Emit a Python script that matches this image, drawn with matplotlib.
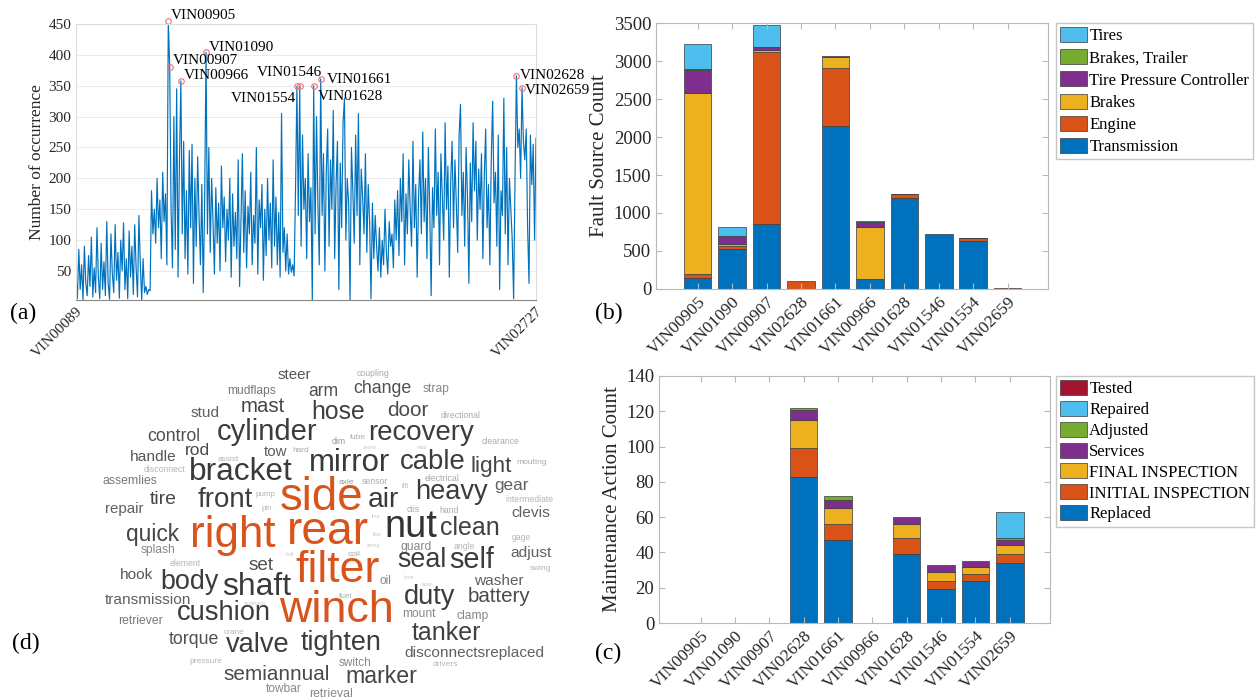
import numpy as np
import matplotlib
matplotlib.use("Agg")
import matplotlib.pyplot as plt
from matplotlib.patches import Patch

plt.rcParams['font.family'] = ['Liberation Serif', 'DejaVu Serif']

W, H = 1259, 698

# ---------------- (a) occurrences per vehicle ----------------
occurrence = [
    40, 5, 85, 20, 60, 3, 90, 30, 10, 75, 25, 105, 8, 55, 15, 120, 40, 5, 95, 20,
    65, 10, 130, 30, 4, 110, 45, 15, 125, 35, 80, 6, 100, 50, 128, 20, 70, 5, 115, 40,
    90, 12, 125, 55, 8, 140, 60, 3, 70, 15, 25, 12, 20, 18, 180, 110, 150, 95, 200, 120,
    165, 70, 210, 130, 175, 60, 455, 381, 150, 55, 300, 85, 345, 40, 230, 358, 110, 260, 70, 180,
    45, 245, 120, 255, 30, 200, 90, 235, 140, 60, 190, 15, 160, 404, 110, 250, 80, 200, 130, 45,
    185, 95, 160, 50, 220, 120, 170, 65, 150, 100, 200, 40, 175, 90, 145, 70, 230, 25, 130, 240,
    80, 180, 55, 155, 110, 210, 60, 140, 95, 250, 45, 165, 120, 190, 35, 150, 75, 200, 100, 160,
    55, 230, 90, 170, 60, 145, 40, 305, 80, 120, 50, 110, 45, 70, 48, 60, 42, 180, 349, 140,
    349, 90, 270, 150, 200, 70, 240, 130, 185, 2, 350, 110, 300, 160, 60, 361, 140, 240, 50, 210,
    280, 90, 230, 150, 310, 70, 190, 260, 20, 225, 120, 290, 330, 100, 200, 160, 2, 250, 180, 95,
    270, 140, 305, 60, 215, 170, 110, 240, 80, 190, 130, 5, 160, 70, 140, 90, 50, 120, 40, 100,
    60, 150, 80, 45, 130, 90, 110, 55, 165, 100, 180, 75, 200, 130, 240, 60, 175, 110, 230, 150,
    90, 260, 120, 190, 40, 170, 230, 110, 275, 130, 200, 70, 250, 150, 10, 185, 120, 280, 140, 210,
    60, 240, 170, 100, 290, 150, 220, 40, 195, 260, 120, 230, 160, 80, 270, 320, 140, 210, 90, 250,
    170, 30, 225, 130, 290, 180, 260, 100, 215, 150, 240, 70, 200, 280, 120, 190, 60, 230, 325, 160,
    210, 90, 270, 20, 180, 140, 330, 110, 250, 60, 200, 150, 100, 5, 200, 366, 250, 280, 200, 347,
    260, 230, 280, 120, 30, 270, 190, 255, 100, 265,
]
first_last_vin = ['VIN00089', 'VIN02727']
peak_names = ['VIN00905', 'VIN00907', 'VIN00966', 'VIN01090', 'VIN01554',
              'VIN01546', 'VIN01628', 'VIN01661', 'VIN02628', 'VIN02659']
peak_idx = [66, 67, 75, 93, 158, 160, 170, 175, 315, 319]
# label offsets in pixels and alignment
peak_off = [(3, 5, 'left'), (3, 6, 'left'), (3, 5, 'left'), (3, 5, 'left'), (-1, -12, 'right'),
            (-43, 14, 'left'), (4, -11, 'left'), (6, -1, 'left'), (3, 0, 'left'), (3, -3, 'left')]

# ---------------- (b) fault sources ----------------
vins = ['VIN00905', 'VIN01090', 'VIN00907', 'VIN02628', 'VIN01661',
        'VIN00966', 'VIN01628', 'VIN01546', 'VIN01554', 'VIN02659']
fault_names = ['Transmission', 'Engine', 'Brakes', 'Tire Pressure Controller', 'Brakes, Trailer', 'Tires']
transmission = [150, 530, 860, 0, 2150, 125, 1200, 720, 630, 3]
engine = [50, 40, 2265, 110, 755, 5, 50, 0, 40, 8]
brakes = [2380, 25, 25, 0, 150, 680, 5, 0, 5, 0]
tire_pressure = [305, 100, 35, 0, 5, 75, 0, 0, 0, 0]
brakes_trailer = [5, 5, 5, 0, 0, 0, 0, 0, 0, 0]
tires = [330, 120, 280, 0, 0, 5, 0, 0, 0, 0]

# ---------------- (c) maintenance actions ----------------
action_names = ['Replaced', 'INITIAL INSPECTION', 'FINAL INSPECTION', 'Services', 'Adjusted', 'Repaired', 'Tested']
replaced = [0, 0, 0, 83, 47, 0, 39, 19, 24, 34]
initial_insp = [0, 0, 0, 16, 9, 0, 9, 5, 4, 5]
final_insp = [0, 0, 0, 16, 9, 0, 8, 5, 4, 5]
services = [0, 0, 0, 6, 5, 0, 4, 4, 3, 3]
adjusted = [0, 0, 0, 1, 2, 0, 0, 0, 0, 1]
repaired = [0, 0, 0, 0, 0, 0, 0, 0, 0, 15]
tested = [0, 0, 0, 0, 0, 0, 0, 0, 0, 0]

# ---------------- (d) word cloud ----------------
OR = '#D9541C'
words = ['steer', 'coupling', 'mudflaps', 'arm', 'change', 'strap', 'stud', 'mast', 'hose', 'door',
         'directional', 'control', 'cylinder', 'dim', 'lube', 'recovery', 'clearance', 'handle', 'rod', 'tow',
         'hard', 'assist', 'disconnect', 'bracket', 'mirror', 'cable', 'light', 'mouting', 'assemlies', 'axle',
         'sensor', 'electrical', 'lift', 'heavy', 'gear', 'intermediate', 'tire', 'repair', 'front', 'pump',
         'pin', 'side', 'air', 'ctis', 'hand', 'clevis', 'quick', 'splash', 'right', 'rear',
         'nut', 'clean', 'gage', 'guard', 'angle', 'coil', 'element', 'set', 'filter', 'seal',
         'self', 'adjust', 'swing', 'hook', 'body', 'shaft', 'oil', 'washer', 'transmission', 'fuel',
         'duty', 'battery', 'retriever', 'cushion', 'winch', 'mount', 'clamp', 'crane', 'torque', 'valve',
         'tighten', 'tanker', 'disconnectsreplaced', 'pressure', 'switch', 'drivers', 'semiannual', 'marker', 'towbar', 'retrieval',
         'loose', 'mud', 'line', 'flap', 'string', 'bolt', 'boot', 'seat', 'sediment']
word_x = [795, 1009, 680, 874, 1034, 1179, 555, 711, 913, 1102,
          1245, 471, 722, 915, 965, 1137, 1352, 413, 535, 744,
          813, 616, 445, 652, 945, 1171, 1327, 1437, 352, 936,
          1014, 1196, 1094, 1221, 1382, 1431, 442, 336, 609, 717,
          721, 868, 1036, 1118, 1215, 1434, 412, 428, 630, 886,
          1111, 1271, 1410, 1125, 1255, 957, 501, 705, 912, 1141,
          1275, 1435, 1460, 368, 511, 694, 1043, 1349, 401, 933,
          1161, 1349, 381, 604, 910, 1133, 1278, 633, 523, 696,
          922, 1207, 1283, 556, 960, 1205, 747, 1030, 766, 895,
          1000, 1140, 1015, 1020, 1010, 785, 1105, 1155, 690]
word_y = [75, 70, 123, 125, 115, 118, 190, 170, 187, 182,
          195, 260, 245, 275, 262, 250, 275, 320, 302, 307,
          300, 328, 357, 365, 340, 337, 350, 337, 393, 397,
          395, 385, 410, 425, 407, 450, 450, 478, 450, 432,
          474, 445, 450, 477, 482, 490, 555, 600, 555, 545,
          530, 535, 562, 590, 590, 615, 640, 645, 660, 630,
          630, 610, 657, 675, 695, 710, 693, 692, 750, 738,
          740, 740, 812, 790, 780, 792, 797, 847, 868, 885,
          878, 850, 910, 935, 938, 945, 972, 980, 1017, 1033,
          293, 293, 500, 553, 585, 612, 683, 703, 760]
word_size = [11.2, 6.5, 8.9, 13, 13.2, 8.9, 11.4, 15.1, 18.4, 15.3,
             6.4, 13.1, 21.6, 6.4, 6.2, 20.5, 6.4, 11.5, 12.9, 11.1,
             6.1, 6.2, 6.4, 23.5, 23.1, 20.4, 16.7, 6.3, 9.1, 6.2,
             6.4, 6.5, 5.5, 20.2, 12.7, 6.4, 14.4, 11.2, 20.5, 5.9,
             5.8, 33.9, 20.9, 6.4, 6.4, 11.5, 16.9, 8.9, 32.7, 34.2,
             28.2, 18.6, 6.4, 9, 6.5, 6.2, 6.5, 14, 33.2, 20,
             21.4, 11.4, 6.2, 11.4, 20, 23.6, 8.8, 11.4, 11.4, 6.1,
             20.2, 15.2, 9, 20.3, 33.3, 8.9, 9, 6.1, 13.2, 20.2,
             20, 18.6, 11.4, 6.3, 8.7, 6.2, 15.4, 17.2, 8.8, 9.1,
             4, 4, 4, 4, 4, 4, 4, 4, 4]
word_color = ['#555555', '#aaaaaa', '#777777', '#505050', '#505050', '#888888', '#606060', '#454545', '#404040', '#4a4a4a',
              '#aaaaaa', '#505050', '#3c3c3c', '#999999', '#aaaaaa', '#3c3c3c', '#aaaaaa', '#555555', '#4a4a4a', '#606060',
              '#aaaaaa', '#b5b5b5', '#b5b5b5', '#3a3a3a', '#3a3a3a', '#3c3c3c', '#454545', '#aaaaaa', '#777777', '#999999',
              '#aaaaaa', '#aaaaaa', '#bbbbbb', '#3c3c3c', '#606060', '#b5b5b5', '#454545', '#606060', '#3c3c3c', '#b5b5b5',
              '#b5b5b5', OR, '#3c3c3c', '#aaaaaa', '#aaaaaa', '#606060', '#454545', '#888888', OR, OR,
              '#333333', '#404040', '#b5b5b5', '#888888', '#b5b5b5', '#aaaaaa', '#b5b5b5', '#505050', OR, '#3c3c3c',
              '#3c3c3c', '#606060', '#b5b5b5', '#555555', '#3c3c3c', '#3a3a3a', '#888888', '#606060', '#606060', '#aaaaaa',
              '#3c3c3c', '#4a4a4a', '#777777', '#3c3c3c', OR, '#888888', '#888888', '#b5b5b5', '#505050', '#3c3c3c',
              '#3c3c3c', '#404040', '#606060', '#b5b5b5', '#888888', '#b5b5b5', '#4a4a4a', '#454545', '#888888', '#888888',
              '#c8c8c8', '#c8c8c8', '#c8c8c8', '#c8c8c8', '#c8c8c8', '#c8c8c8', '#c8c8c8', '#c8c8c8', '#c8c8c8']

blue = '#0072BD'
orange = '#D95319'
yellow = '#EDB120'
purple = '#7E2F8E'
green = '#77AC30'
cyan = '#4DBEEE'
red = '#A2142F'
axcol = '#b8b8b8'
txtcol = '#262626'


def box(l, t, r, b):
    return [l / W, 1 - b / H, (r - l) / W, (b - t) / H]


fig = plt.figure(figsize=(W / 100, H / 100), dpi=100)

# ---- (a)
ax_a = fig.add_axes(box(76, 24, 536, 300))
x = np.arange(len(occurrence))
ax_a.plot(x, occurrence, color=blue, lw=0.85)
for name, i, (dx, dy, ha) in zip(peak_names, peak_idx, peak_off):
    ax_a.plot(i, occurrence[i], 'o', mfc='none', mec='#f07070', ms=4, mew=0.8, clip_on=False)
    ax_a.annotate(name, xy=(i, occurrence[i]), xytext=(dx, dy), textcoords='offset pixels',
                  ha=ha, va='center', fontsize=11, color='k', annotation_clip=False)
ax_a.set_xlim(0, len(occurrence) - 1)
ax_a.set_ylim(3, 450)
ax_a.set_yticks(range(50, 451, 50))
ax_a.set_xticks([0, len(occurrence) - 1])
ax_a.set_xticklabels(first_last_vin, rotation=45, ha='right', rotation_mode='anchor')
ax_a.set_ylabel('Number of occurrence', fontsize=12.5, color=txtcol, labelpad=2)
ax_a.yaxis.grid(True, color='#e8e8e8', lw=0.6)
ax_a.set_axisbelow(True)
for s in ['top', 'right', 'left']:
    ax_a.spines[s].set_color('#dddddd')
ax_a.spines['bottom'].set_color('#888888')
ax_a.tick_params(labelsize=11, colors=txtcol, length=0)
fig.text(23 / W, 1 - 313 / H, '(a)', fontsize=17, va='center', ha='center')


def stacked(ax, series, colors):
    bottom = np.zeros(len(vins))
    handles = []
    for vals, c in zip(series, colors):
        vals = np.array(vals, dtype=float)
        lw = [0.5 if v > 0 else 0 for v in vals]
        ax.bar(np.arange(len(vins)), vals, 0.8, bottom=bottom, color=c, edgecolor='#3a3a3a', linewidth=lw)
        bottom += vals
        handles.append(Patch(facecolor=c, edgecolor='#3a3a3a', linewidth=0.5))
    ax.set_xlim(-1.21, len(vins) - 1 + 1.17)
    ax.set_xticks(np.arange(len(vins)))
    ax.set_xticklabels(vins, rotation=45, ha='right', rotation_mode='anchor', fontsize=12.5)
    ax.tick_params(axis='y', labelsize=13.5)
    ax.tick_params(direction='in', top=True, right=True, length=4, color=axcol, colors=txtcol)
    ax.tick_params(axis='both', which='both', color=axcol)
    for s in ax.spines.values():
        s.set_color(axcol)
    return handles


# ---- (b)
ax_b = fig.add_axes(box(656, 23, 1048, 289))
hb = stacked(ax_b, [transmission, engine, brakes, tire_pressure, brakes_trailer, tires],
             [blue, orange, yellow, purple, green, cyan])
ax_b.set_ylim(0, 3500)
ax_b.set_yticks(range(0, 3501, 500))
ax_b.set_ylabel('Fault Source Count', fontsize=15, color=txtcol, labelpad=3)
fig.legend(hb[::-1], fault_names[::-1], loc='upper left', bbox_to_anchor=(1056 / W, 1 - 23 / H),
           fontsize=12, frameon=True, fancybox=False, edgecolor=axcol, borderpad=0.25,
           handlelength=1.6, handleheight=1.0, handletextpad=0.15, labelspacing=0.3, borderaxespad=0)
fig.text(609 / W, 1 - 313 / H, '(b)', fontsize=17, va='center', ha='center')

# ---- (c)
ax_c = fig.add_axes(box(659, 376, 1050, 623))
hc = stacked(ax_c, [replaced, initial_insp, final_insp, services, adjusted, repaired, tested],
             [blue, orange, yellow, purple, green, cyan, red])
ax_c.set_ylim(0, 140)
ax_c.set_yticks(range(0, 141, 20))
ax_c.set_ylabel('Maintenance Action Count', fontsize=15, color=txtcol, labelpad=3)
fig.legend(hc[::-1], action_names[::-1], loc='upper left', bbox_to_anchor=(1056 / W, 1 - 376 / H),
           fontsize=12, frameon=True, fancybox=False, edgecolor=axcol, borderpad=0.25,
           handlelength=1.6, handleheight=1.0, handletextpad=0.15, labelspacing=0.22, borderaxespad=0)
fig.text(608 / W, 1 - 653 / H, '(c)', fontsize=17, va='center', ha='center')

# ---- (d)
ax_d = fig.add_axes(box(0, 350, 580, 698))
ax_d.set_xlim(0, 1568)
ax_d.set_ylim(1044, 0)
ax_d.axis('off')
for w, wx, wy, ws, wc in zip(words, word_x, word_y, word_size, word_color):
    ax_d.text(wx, wy, w, fontsize=ws * 0.97, color=wc, ha='center', va='center',
              family=['Liberation Sans', 'DejaVu Sans'], clip_on=False)
fig.text(26 / W, 1 - 643 / H, '(d)', fontsize=17, va='center', ha='center')

fig.savefig('out.png', dpi=100)
